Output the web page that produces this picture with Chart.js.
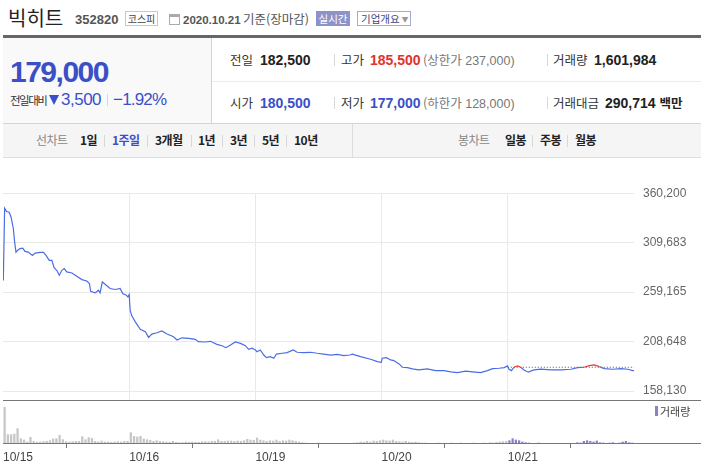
<!DOCTYPE html>
<html lang="ko">
<head>
<meta charset="UTF-8">
<title>빅히트 352820</title>
<script src="https://cdn.jsdelivr.net/npm/chart.js"></script>
<style>
  html, body { margin: 0; padding: 0; background: #fff; }
  body {
    width: 701px; height: 471px; position: relative; overflow: hidden;
    font-family: "Liberation Sans", Arial, "Noto Sans CJK KR", sans-serif;
    color: #333;
  }
  .a { position: absolute; white-space: nowrap; line-height: 20px; }
  .kr { font-family: "Noto Sans CJK KR", sans-serif; }
  .box { position: absolute; box-sizing: border-box; white-space: nowrap; }
  .b { font-weight: bold; }
  .lbl { font-family: "Noto Sans CJK KR", sans-serif; font-size: 12.5px; color: #333; }
  .num { font-size: 14px; font-weight: bold; color: #222; }
  .lim { font-size: 12.5px; color: #777; }
  .sep { position: absolute; width: 1px; height: 12px; background: #d8d8d8; }
  .tab { font-family: "Noto Sans CJK KR", sans-serif; font-size: 12px; font-weight: bold; color: #222; letter-spacing: -0.5px; }
  .tabg { font-family: "Noto Sans CJK KR", sans-serif; font-size: 12px; color: #888; letter-spacing: -0.5px; }
  .blue { color: #3a4fc8; }
  .red { color: #e4312b; }
  #priceWrap { position: absolute; left: 0; top: 177px; width: 701px; height: 240px; }
  #volWrap { position: absolute; left: 0; top: 402px; width: 701px; height: 69px; }
</style>
</head>
<body>
  <!-- header -->
  <div class="a kr" style="left:8px; top:7px; font-size:20px; line-height:22px; color:#222;">빅히트</div>
  <div class="a b" style="left:75px; top:10px; font-size:13px; color:#555;">352820</div>
  <div class="box kr" style="left:125px; top:11px; width:33px; height:15px; border:1px solid #c8c8c8; font-size:10px; line-height:13px; text-align:center; color:#444;">코스피</div>
  <div class="box" style="left:169px; top:14px; width:11px; height:11px; border:1px solid #aaa; border-top:3px solid #aaa;"></div>
  <div class="a" style="left:183px; top:10px; font-size:11.5px; font-weight:bold; color:#555;">2020.10.21</div>
  <div class="a kr" style="left:243px; top:9px; font-size:12.5px; color:#555;">기준(장마감)</div>
  <div class="box kr" style="left:316px; top:11px; width:34px; height:15px; background:#8d93c9; color:#fff; font-size:10.5px; line-height:15px; text-align:center;">실시간</div>
  <div class="box kr" style="left:357px; top:11px; width:54px; height:15px; border:1px solid #a5acd3; color:#3c4680; font-size:10.5px; line-height:13px; padding-left:3px;">기업개요<span style="color:#999; font-size:7px; vertical-align:1px;"> ▼</span></div>
  <div class="box" style="left:3px; top:35px; width:698px; height:3px; background:#666;"></div>

  <!-- summary -->
  <div class="box" style="left:3px; top:38px; width:208px; height:85px; background:#f9f9f9;"></div>
  <div class="box" style="left:211px; top:38px; width:1px; height:85px; background:#d4d4d4;"></div>
  <div class="box" style="left:212px; top:81px; width:489px; height:1px; background:#ececec;"></div>
  <div class="a b blue" style="left:10px; top:55px; font-size:30px; line-height:34px; letter-spacing:-1.5px;">179,000</div>
  <div class="a kr" style="left:10px; top:90px; font-size:11.5px; letter-spacing:-1.5px; color:#333;">전일대비</div>
  <div class="box" style="left:49px; top:95px; width:0; height:0; border-left:5px solid transparent; border-right:5px solid transparent; border-top:10px solid #3a4fc8;"></div>
  <div class="a blue" style="left:61px; top:89px; font-size:17px; line-height:22px; letter-spacing:-0.5px;">3,500</div>
  <div class="sep" style="left:107px; top:94px;"></div>
  <div class="a blue" style="left:113px; top:89px; font-size:17px; line-height:22px; letter-spacing:-0.8px;">−1.92%</div>

  <div class="a lbl" style="left:230px; top:50px;">전일</div>
  <div class="a num" style="left:260px; top:50px;">182,500</div>
  <div class="sep" style="left:334px; top:54px;"></div>
  <div class="a lbl" style="left:341px; top:50px;">고가</div>
  <div class="a num red" style="left:370px; top:50px;">185,500</div>
  <div class="a lim" style="left:423px; top:50px;"><span class="kr">(상한가</span> 237,000)</div>
  <div class="sep" style="left:547px; top:54px;"></div>
  <div class="a lbl" style="left:553px; top:50px;">거래량</div>
  <div class="a num" style="left:594px; top:50px;">1,601,984</div>

  <div class="a lbl" style="left:230px; top:93px;">시가</div>
  <div class="a num blue" style="left:260px; top:93px;">180,500</div>
  <div class="sep" style="left:334px; top:97px;"></div>
  <div class="a lbl" style="left:341px; top:93px;">저가</div>
  <div class="a num blue" style="left:370px; top:93px;">177,000</div>
  <div class="a lim" style="left:423px; top:93px;"><span class="kr">(하한가</span> 128,000)</div>
  <div class="sep" style="left:547px; top:97px;"></div>
  <div class="a lbl" style="left:553px; top:93px;">거래대금</div>
  <div class="a num" style="left:605px; top:93px;">290,714 <span class="kr" style="font-size:12.5px;">백만</span></div>

  <!-- tab bar -->
  <div class="box" style="left:3px; top:123px; width:698px; height:35px; background:#f5f5f6; border-top:1px solid #d4d4d4; border-bottom:1px solid #dedede;"></div>
  <div class="box" style="left:352px; top:124px; width:1px; height:33px; background:#dcdcdc;"></div>
  <div class="a tabg" style="left:36px; top:130px;">선차트</div>
  <div class="a tab" style="left:80px; top:130px;">1일</div>
  <div class="sep" style="left:104px; top:135px;"></div>
  <div class="a tab" style="left:112px; top:130px; color:#3a4fc8;">1주일</div>
  <div class="sep" style="left:147px; top:135px;"></div>
  <div class="a tab" style="left:155px; top:130px;">3개월</div>
  <div class="sep" style="left:191px; top:135px;"></div>
  <div class="a tab" style="left:198px; top:130px;">1년</div>
  <div class="sep" style="left:222px; top:135px;"></div>
  <div class="a tab" style="left:230px; top:130px;">3년</div>
  <div class="sep" style="left:254px; top:135px;"></div>
  <div class="a tab" style="left:262px; top:130px;">5년</div>
  <div class="sep" style="left:286px; top:135px;"></div>
  <div class="a tab" style="left:294px; top:130px;">10년</div>
  <div class="a tabg" style="left:458px; top:130px;">봉차트</div>
  <div class="a tab" style="left:505px; top:130px;">일봉</div>
  <div class="sep" style="left:532px; top:135px;"></div>
  <div class="a tab" style="left:540px; top:130px;">주봉</div>
  <div class="sep" style="left:567px; top:135px;"></div>
  <div class="a tab" style="left:575px; top:130px;">월봉</div>

  <!-- charts -->
  <div id="priceWrap"><canvas id="priceChart"></canvas></div>
  <div id="volWrap"><canvas id="volumeChart"></canvas></div>
  <div class="box" style="left:655px; top:406px; width:3px; height:10px; background:#8b82c4;"></div>
  <div class="a kr" style="left:660px; top:401px; font-size:11px; color:#444;">거래량</div>

  <script>
    const dateLabels = ['10/15', '10/16', '10/19', '10/20', '10/21'];
    const yTicks = [158130, 208648, 259165, 309683, 360200];
    const prevClose = 182500;
    const MIN_PER_DAY = 390; // 09:00 ~ 15:30

    // [minutes since 09:00, price]
    const day1015 = [
      [1, 271000], [5, 345000], [11, 341500], [19, 340800], [25, 335700], [32, 323900], [36, 310300],
      [40, 300100], [47, 302500], [53, 303600], [61, 304200], [68, 300800], [78, 300100], [91, 296700],
      [99, 299100], [115, 299800], [125, 299800], [133, 296700], [143, 291700], [151, 291700], [158, 284200],
      [166, 281500], [174, 276400], [182, 281500], [189, 283200], [197, 279800], [213, 278700], [228, 275400],
      [244, 272000], [259, 270600], [267, 268000], [271, 260100], [285, 258400], [295, 261100], [300, 258400],
      [307, 269700], [319, 266200], [331, 262900], [347, 261900], [362, 262900], [370, 257800], [381, 256100],
      [386, 254300], [390, 256800]
    ];
    const day1016 = [
      [3, 240500], [8, 235000], [19, 228900], [34, 221200], [50, 218700], [60, 213000], [70, 216400],
      [86, 217700], [101, 219500], [117, 216400], [137, 213700], [148, 210300], [163, 212600], [184, 212000],
      [204, 211000], [214, 208600], [235, 208300], [251, 209000], [271, 205900], [287, 204500], [299, 202500],
      [313, 205200], [328, 208300], [344, 206900], [359, 204500], [369, 200800], [380, 201900], [390, 200100]
    ];
    const day1019 = [
      [5, 198400], [15, 200100], [26, 195000], [34, 192300], [46, 193300], [57, 191700], [65, 196000],
      [83, 196800], [98, 197400], [117, 200100], [129, 197800], [149, 197400], [170, 197800], [191, 196800],
      [211, 196000], [232, 195000], [253, 195700], [273, 194300], [292, 195000], [300, 195800], [325, 193300],
      [356, 190700], [377, 188200], [389, 187600]
    ];
    const day1020 = [
      [2, 191700], [15, 192300], [28, 190000], [38, 189300], [54, 185900], [64, 182500], [80, 182200],
      [95, 180800], [115, 179800], [141, 180800], [167, 179100], [193, 179100], [214, 177800], [234, 177100],
      [260, 178500], [281, 177800], [306, 177100], [327, 179100], [343, 181100], [363, 181500], [379, 182200],
      [389, 183900]
    ];
    const day1021 = [
      [4, 180500], [11, 179100], [19, 182500], [30, 183900], [40, 182500], [50, 179800], [63, 177500],
      [81, 179800], [102, 180500], [133, 179800], [164, 179800], [195, 180500], [216, 182200], [236, 182500],
      [252, 184200], [267, 184900], [283, 183200], [298, 181100], [324, 180500], [350, 181100], [371, 180500],
      [386, 179100], [390, 179000]
    ];
    const priceDays = [day1015, day1016, day1019, day1020, day1021];

    // 10-minute volume buckets (thousand shares)
    const vol1015 = [110, 28, 28, 30, 46, 16, 12, 6, 20, 8, 5, 6, 7, 8, 10, 15, 16, 26, 13, 7,
                     6, 7, 8, 8, 22, 13, 19, 17, 8, 6, 9, 6, 6, 5, 6, 7, 6, 8, 8];
    const vol1016 = [34, 23, 21, 23, 15, 13, 11, 8, 10, 8, 7, 6, 5, 8, 5, 4, 4, 6, 5, 6,
                     5, 5, 7, 7, 6, 8, 8, 13, 8, 8, 9, 9, 8, 9, 8, 10, 14, 12, 11];
    const vol1019 = [18, 12, 10, 8, 10, 9, 12, 8, 10, 9, 12, 10, 8, 6, 4, 3, 0, 2, 0, 3,
                     0, 2, 0, 0, 0, 0, 0, 2, 0, 0, 3, 4, 6, 5, 8, 6, 9, 8, 10];
    const vol1020 = [12, 10, 9, 12, 8, 7, 6, 8, 6, 5, 6, 4, 3, 3, 0, 2, 0, 3, 0, 0,
                     2, 3, 2, 0, 3, 2, 0, 2, 3, 0, 2, 3, 0, 4, 3, 5, 6, 7, 8];
    const vol1021 = [10, 16, 12, 10, 6, 4, 3, 2, 0, 3, 0, 0, 0, 0, 0, 0, 0, 0, 0, 0,
                     0, 4, 3, 8, 10, 8, 6, 9, 4, 3, 2, 3, 4, 0, 3, 6, 8, 4, 3];
    const volDays = [vol1015, vol1016, vol1019, vol1020, vol1021];

    const pricePoints = priceDays.flatMap((day, d) =>
      day.map(([m, p]) => ({ x: d * MIN_PER_DAY + m, y: p })));
    const volPoints = volDays.flatMap((day, d) =>
      day.map((v, i) => ({ x: d * MIN_PER_DAY + i * 10 + 5, y: v })));
    const volColors = volDays.flatMap((day, d) =>
      day.map(() => d === volDays.length - 1 ? '#8b82c4' : '#c6c6c6'));

    const lastDayStart = (priceDays.length - 1) * MIN_PER_DAY;
    const dayTicks = s => { s.ticks = dateLabels.map((_, i) => ({ value: i * MIN_PER_DAY })); };

    // dark base line running under the right-hand labels too
    const axisLine = {
      id: 'axisLine',
      afterDraw(chart) {
        const { ctx, chartArea } = chart;
        const y = Math.round(chartArea.bottom) - 0.5;
        ctx.save();
        ctx.strokeStyle = '#777';
        ctx.lineWidth = 1;
        ctx.beginPath();
        ctx.moveTo(chartArea.left, y);
        ctx.lineTo(chart.width, y);
        ctx.stroke();
        ctx.restore();
      }
    };

    const tickFont = { family: 'Liberation Sans', size: 12 };

    new Chart(document.getElementById('priceChart'), {
      type: 'line',
      data: {
        datasets: [
          {
            data: pricePoints,
            borderColor: '#4a6de5',
            borderWidth: 1.2,
            pointRadius: 0,
            tension: 0,
            segment: {
              borderColor: c => (c.p0.parsed.x >= lastDayStart &&
                (c.p0.parsed.y + c.p1.parsed.y) / 2 > prevClose) ? '#e5402f' : undefined
            }
          },
          {
            data: [{ x: lastDayStart, y: prevClose }, { x: priceDays.length * MIN_PER_DAY, y: prevClose }],
            borderColor: '#555',
            borderWidth: 1,
            borderDash: [1, 2],
            pointRadius: 0
          }
        ]
      },
      options: {
        responsive: true,
        maintainAspectRatio: false,
        animation: false,
        layout: { padding: { left: 3, top: 10, right: 0, bottom: 0 } },
        plugins: { legend: { display: false }, tooltip: { enabled: false } },
        scales: {
          x: {
            type: 'linear',
            min: 0,
            max: priceDays.length * MIN_PER_DAY,
            afterBuildTicks: dayTicks,
            afterFit: s => { s.height = 0; },
            ticks: { display: false },
            grid: {
              color: c => (c.tick && c.tick.value === 0) ? 'rgba(0,0,0,0)' : '#e9e9e9',
              drawTicks: false
            },
            border: { display: false }
          },
          y: {
            position: 'right',
            min: 148265,
            max: 360200,
            afterBuildTicks: s => { s.ticks = yTicks.map(v => ({ value: v })); },
            afterFit: s => { s.width = 67; },
            ticks: {
              padding: 9,
              color: '#666',
              font: tickFont,
              callback: v => v.toLocaleString('en-US')
            },
            grid: { color: '#e9e9e9', drawTicks: false },
            border: { display: false }
          }
        }
      },
      plugins: [axisLine]
    });

    new Chart(document.getElementById('volumeChart'), {
      type: 'bar',
      data: {
        datasets: [{
          data: volPoints,
          backgroundColor: volColors,
          barThickness: 1.6,
          grouped: false
        }]
      },
      options: {
        responsive: true,
        maintainAspectRatio: false,
        animation: false,
        layout: { padding: { left: 3, top: 4, right: 0, bottom: 0 } },
        plugins: { legend: { display: false }, tooltip: { enabled: false } },
        scales: {
          x: {
            type: 'linear',
            offset: false,
            min: 0,
            max: priceDays.length * MIN_PER_DAY,
            afterBuildTicks: dayTicks,
            afterFit: s => { s.height = 27; },
            ticks: {
              align: 'start',
              autoSkip: false,
              maxRotation: 0,
              padding: 2,
              color: '#444',
              font: tickFont,
              callback: v => dateLabels[Math.round(v / MIN_PER_DAY)]
            },
            grid: { drawOnChartArea: false, drawTicks: true, tickLength: 4, color: '#777' },
            border: { display: false }
          },
          y: {
            position: 'right',
            min: 0,
            max: 114,
            afterFit: s => { s.width = 67; },
            ticks: { display: false },
            grid: { display: false },
            border: { display: false }
          }
        }
      },
      plugins: [axisLine]
    });
  </script>
</body>
</html>
